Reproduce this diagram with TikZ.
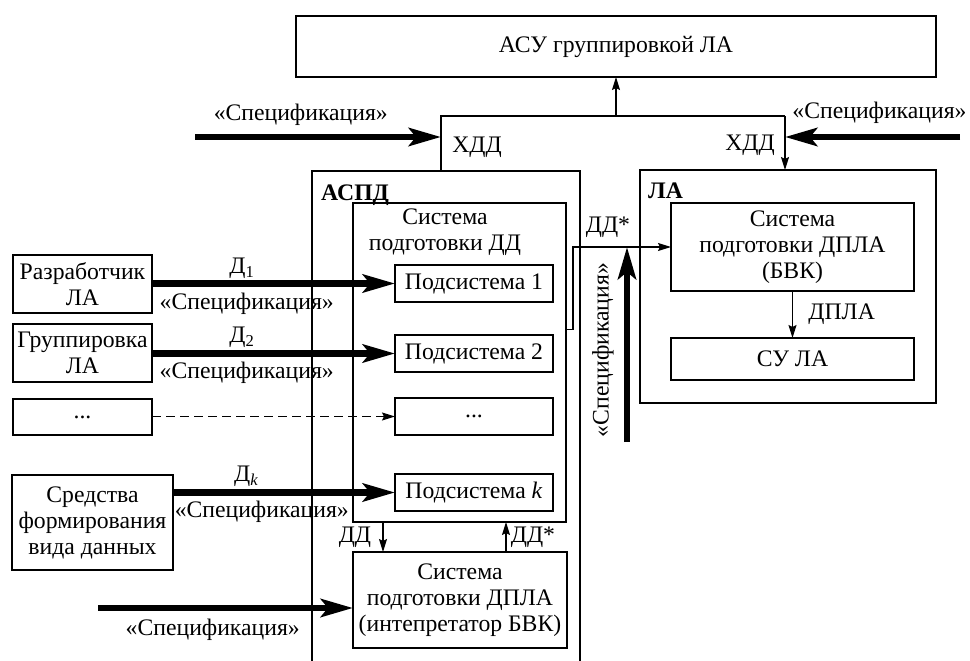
\documentclass[tikz,border=0pt]{standalone}
\usepackage{fontspec}
\setmainfont{Liberation Serif}
\usetikzlibrary{positioning, arrows.meta}

\begin{document}
\begin{tikzpicture}[
    x=1pt, y=-1pt,
    every node/.style={font=\fontsize{23.7}{26}\selectfont},
    box/.style={rectangle, draw, line width=1.3pt, align=center, inner sep=0pt, outer sep=0pt, minimum width=#1},
    box/.default=139pt,
    sub/.style={box=158pt, minimum height=37pt},
    frame/.style={line width=1.3pt},
    lbl/.style={inner sep=0pt, align=center},
    title/.style={inner sep=0pt, font=\fontsize{23.7}{26}\selectfont\bfseries},
    arr/.style={-{Stealth[length=13pt, width=8pt, inset=2pt]}, line width=1.2pt},
    dasharr/.style={arr, dash pattern=on 9pt off 5pt},
    fat/.style={-{Stealth[length=32pt, width=18pt, inset=7pt]}, line width=6.5pt},
]
\useasboundingbox (0,0) rectangle (970,661);

% ---------- top: group control ----------
\node[box=640pt, minimum height=61pt, anchor=north west] (asu) at (296,16) {АСУ группировкой ЛА};
\coordinate (xddL) at (441,116);
\coordinate (xddR) at (785,116);

% ---------- containers ----------
\node[minimum width=268pt, minimum height=490pt, inner sep=0pt, outer sep=0pt, anchor=north west] (aspd) at (312,171) {};
\draw[frame] (aspd.south west) -- (aspd.north west) -- (aspd.north east) -- (aspd.south east);
\node[title, anchor=base west] (aspdlbl) at (321,200) {АСПД};

\node[box=296pt, minimum height=233pt, anchor=north west] (la) at (640,170) {};
\node[title, anchor=base west] (lalbl) at (648,198) {ЛА};

% ---------- data preparation system (АСПД) ----------
\node[box=213pt, minimum height=319pt, anchor=north west] (sysdd) at (353,203) {};
\node[lbl] (sysddlbl) at (445,232) {Система\\подготовки ДД};
\node[sub, anchor=north west] (sub1) at (395,265) {Подсистема 1};
\node[sub, below=33pt of sub1] (sub2) {Подсистема 2};
\node[sub, below=26pt of sub2] (subdots) {...};
\node[sub, below=39pt of subdots] (subk) {Подсистема \textit{k}};

\node[box=214pt, minimum height=96pt, anchor=north west] (dpla) at (353,552) {Система\\подготовки ДПЛА\\(интепретатор БВК)};

% ---------- sources (left column) ----------
\node[box, minimum height=58pt, anchor=north west] (razr) at (13,255) {Разработчик\\ЛА};
\node[box, minimum height=58pt, below=11pt of razr] (grup) {Группировка\\ЛА};
\node[box, minimum height=36pt, below=17pt of grup] (dots) {...};
\node[box=161pt, minimum height=95pt, anchor=north west] (sredstva) at (12,475) {Средства\\формирования\\вида данных};

% ---------- aircraft (ЛА) ----------
\node[box=243pt, minimum height=88pt, anchor=north west] (bvk) at (671,203) {Система\\подготовки ДПЛА\\(БВК)};
\node[box=243pt, minimum height=42pt, below=47pt of bvk] (sula) {СУ ЛА};

% ---------- ХДД distribution ----------
\draw[frame] (xddL |- aspd.north) -- (xddL) -- (xddR);
\draw[arr] (asu.south |- xddL) -- (asu.south);
\draw[arr] (xddR) -- (xddR |- la.north);
\node[lbl] (xddLlbl) at (477,147) {ХДД};
\node[lbl] (xddRlbl) at (750,145) {ХДД};

\coordinate (specL) at (195,137);
\coordinate (specR) at (960,137);
\draw[fat] (specL) -- (specL -| xddL) node[pos=0.43, yshift=22pt] {«Спецификация»};
\draw[fat] (specR) -- (specR -| xddR) node[pos=0.46, yshift=24pt] {«Спецификация»};

% ---------- inputs to subsystems ----------
\draw[fat] (sub1.west -| razr.east) -- (sub1.west)
    node[pos=0.37, yshift=15pt] {Д\textsubscript{1}}
    node[pos=0.39, yshift=-20pt] {«Спецификация»};
\draw[fat] (sub2.west -| grup.east) -- (sub2.west)
    node[pos=0.37, yshift=16pt] {Д\textsubscript{2}}
    node[pos=0.39, yshift=-19pt] {«Спецификация»};
\draw[dasharr] (subdots.west -| dots.east) -- (subdots.west);
\draw[fat] (subk.west -| sredstva.east) -- (subk.west)
    node[pos=0.33, yshift=16pt] {Д\textsubscript{\itshape k}}
    node[pos=0.40, yshift=-19pt] {«Спецификация»};

% ---------- exchange with the interpreter ----------
\draw[arr] ([xshift=30pt]sysdd.south west) -- ([xshift=30pt]dpla.north west);
\draw[arr] ([xshift=153pt]dpla.north west) -- ([xshift=153pt]sysdd.south west);
\node[lbl] (ddlbl) at (355,537) {ДД};
\node[lbl] (ddslbl) at (533,537) {ДД*};

\coordinate (specB) at (98,608);
\draw[fat] (specB) -- (specB -| dpla.west) node[pos=0.45, yshift=-22pt] {«Спецификация»};

% ---------- output to the aircraft ----------
\draw[arr] ([yshift=33pt]sysdd.east) -- ++(7,0) |- (bvk.west);
\node[lbl] (ddoutlbl) at (608,227) {ДД*};
\coordinate (specV) at (627,442);
\draw[fat] (specV) -- (specV |- bvk.west);
\node[lbl, rotate=90] (specVlbl) at (603,350) {«Спецификация»};

\draw[arr] (bvk.south) -- (sula.north) node[midway, right=12pt] {ДПЛА};

\end{tikzpicture}
\end{document}
